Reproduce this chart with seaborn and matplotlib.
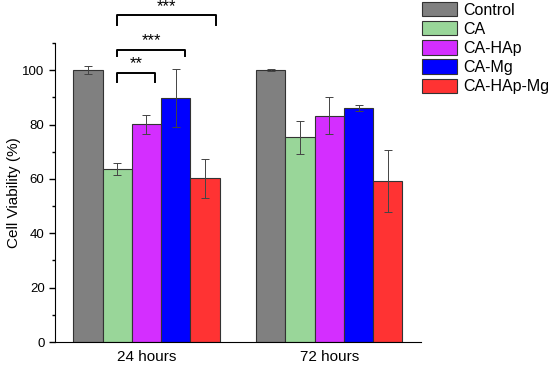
import matplotlib
matplotlib.use('Agg')
import matplotlib.pyplot as plt
import seaborn as sns
import numpy as np
import pandas as pd
from matplotlib.ticker import MultipleLocator

times = ['24 hours', '72 hours']
groups = ['Control', 'CA', 'CA-HAp', 'CA-Mg', 'CA-HAp-Mg']
colors = ['#808080', '#99d699', '#d42eff', '#0000ff', '#ff3333']

viab_24 = [100.0, 63.6, 80.2, 89.8, 60.2]
err_24 = [1.5, 2.2, 3.5, 10.8, 7.2]
viab_72 = [100.0, 75.3, 83.3, 86.1, 59.1]
err_72 = [0.3, 6.0, 6.8, 1.2, 11.4]

# significance brackets (24 h): CA vs others
sig_labels = ['**', '***', '***']
sig_right = [0.046, 0.21, 0.38]
sig_top = [99.1, 107.6, 120.2]
sig_leg = [3.5, 2.3, 3.7]

df = pd.DataFrame({
    'time': np.repeat(times, len(groups)),
    'group': groups * 2,
    'value': viab_24 + viab_72,
    'err': err_24 + err_72,
})

plt.rcParams['font.family'] = ['Liberation Sans', 'DejaVu Sans']
fig = plt.figure(figsize=(5.5, 3.65), dpi=100)
ax = fig.add_axes([0.1, 0.063, 0.665, 0.819])

sns.barplot(data=df, x='time', y='value', hue='group', hue_order=groups,
            palette=colors, errorbar=None, width=0.8, edgecolor='#333333',
            linewidth=0.8, saturation=1, ax=ax)

for cont, g in zip(ax.containers, groups):
    sub = df[df.group == g]
    xs = [b.get_x() + b.get_width() / 2 for b in cont]
    ax.errorbar(xs, sub['value'], yerr=sub['err'], fmt='none',
                ecolor='#444444', elinewidth=0.7, capsize=3, capthick=0.7)

ax.set_xlim(-0.5, 1.5)
ax.set_ylim(0, 110)
ax.yaxis.set_major_locator(MultipleLocator(20))
ax.yaxis.set_minor_locator(MultipleLocator(10))
ax.tick_params(axis='y', which='major', length=4, width=1, labelsize=9.5)
ax.tick_params(axis='y', which='minor', length=2.5, width=1)
ax.tick_params(axis='x', length=0, labelsize=11, pad=6)
ax.set_xlabel('')
ax.set_ylabel('Cell Viability (%)', fontsize=11, labelpad=1)
for s in ['top', 'right']:
    ax.spines[s].set_visible(False)

ca_x = -0.16
for lab, xr, yt, dl in zip(sig_labels, sig_right, sig_top, sig_leg):
    ax.plot([ca_x, ca_x, xr, xr], [yt - dl, yt, yt, yt - dl], color='black',
            lw=1.4, clip_on=False)
    ax.text((ca_x + xr) / 2, yt + 0.6, lab, ha='center', va='bottom',
            fontsize=12, clip_on=False)

ax.legend(loc='upper left', bbox_to_anchor=(0.755, 1.012),
          bbox_transform=fig.transFigure, frameon=False,
          fontsize=11.5, handlelength=2.2, handleheight=1.0, labelspacing=0.22,
          handletextpad=0.4, borderaxespad=0)

fig.savefig('out.png', dpi=100)
